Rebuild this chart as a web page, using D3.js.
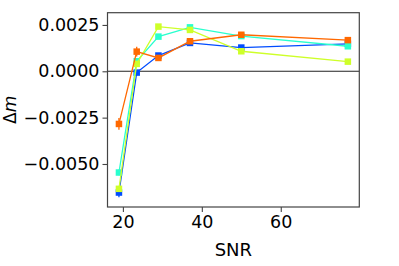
<!DOCTYPE html>
<html>
<head>
<meta charset="utf-8">
<script src="https://cdn.jsdelivr.net/npm/d3@7"></script>
<style>
html,body{margin:0;padding:0;background:#fff;}
svg{display:block;}
text{font-family:"DejaVu Sans",sans-serif;fill:#000;}
</style>
</head>
<body>
<div id="chart"></div>
<script>
const snr = [19, 23.5, 29, 37, 50, 77];
const seriesNames = ["s1", "s2", "s3", "s4"];
const seriesColors = ["#004cff", "#29ffce", "#ceff29", "#ff6800"];
const blueVals   = [-0.00654, -0.00007, 0.00085, 0.00153, 0.00128, 0.00148];
const blueErr    = [0.00026, 0.00012, 0.00010, 0.00008, 0.00008, 0.00008];
const cyanVals   = [-0.00546, 0.00054, 0.00187, 0.00237, 0.00190, 0.00135];
const cyanErr    = [0.00015, 0.00012, 0.00010, 0.00008, 0.00008, 0.00008];
const yellowVals = [-0.00634, 0.00040, 0.00241, 0.00223, 0.00108, 0.00052];
const yellowErr  = [0.00015, 0.00012, 0.00010, 0.00008, 0.00008, 0.00008];
const orangeVals = [-0.00284, 0.00106, 0.00072, 0.00162, 0.00197, 0.00168];
const orangeErr  = [0.00032, 0.00026, 0.00012, 0.00008, 0.00008, 0.00008];
const xTicks = [20, 40, 60];
const yTicks = [-0.005, -0.0025, 0, 0.0025];
const xLabel = "SNR";

const allVals = [blueVals, cyanVals, yellowVals, orangeVals];
const allErrs = [blueErr, cyanErr, yellowErr, orangeErr];

const W = 399, H = 266;
const L = 107.5, R = 359.3, T = 12.7, B = 207;

const svg = d3.select("#chart").append("svg").attr("width", W).attr("height", H);

const x = d3.scaleLinear().domain([16.1, 79.9]).range([L, R]);
const y = d3.scaleLinear().domain([-0.00732, 0.00316]).range([B, T]);

// zero line
svg.append("line").attr("x1", L).attr("x2", R).attr("y1", y(0)).attr("y2", y(0))
  .attr("stroke", "#222").attr("stroke-width", 1.1);

const line = d3.line().x(d => x(d[0])).y(d => y(d[1]));
const clip = svg.append("clipPath").attr("id", "c").append("rect")
  .attr("x", L).attr("y", T).attr("width", R - L).attr("height", B - T);
const g = svg.append("g").attr("clip-path", "url(#c)");

allVals.forEach((vals, i) => {
  const col = seriesColors[i];
  const pts = snr.map((s, j) => [s, vals[j], allErrs[i][j]]);
  const sg = g.append("g");
  sg.append("path").datum(pts).attr("d", line).attr("fill", "none")
    .attr("stroke", col).attr("stroke-width", 1.3);
  sg.selectAll("line.err").data(pts).enter().append("line")
    .attr("x1", d => x(d[0])).attr("x2", d => x(d[0]))
    .attr("y1", d => y(d[1] - d[2])).attr("y2", d => y(d[1] + d[2]))
    .attr("stroke", col).attr("stroke-width", 1.3);
  const ms = 6.5;
  sg.selectAll("rect.m").data(pts).enter().append("rect")
    .attr("x", d => x(d[0]) - ms / 2).attr("y", d => y(d[1]) - ms / 2)
    .attr("width", ms).attr("height", ms).attr("fill", col);
});

// frame
svg.append("rect").attr("x", L).attr("y", T).attr("width", R - L).attr("height", B - T)
  .attr("fill", "none").attr("stroke", "#444").attr("stroke-width", 1.2);

const fmt = v => (v < 0 ? "\u2212" : "") + Math.abs(v).toFixed(4);

const xAxis = d3.axisBottom(x).tickValues(xTicks).tickSize(5).tickPadding(4).tickFormat(d3.format("d"));
const xg = svg.append("g").attr("transform", `translate(0,${B})`).call(xAxis);
xg.select(".domain").remove();
xg.selectAll(".tick line").attr("stroke", "#444").attr("stroke-width", 1.1);
xg.selectAll(".tick text").attr("font-size", 17.5).attr("font-family", "DejaVu Sans").attr("fill", "#000");

const yAxis = d3.axisLeft(y).tickValues(yTicks).tickSize(5).tickPadding(3).tickFormat(fmt);
const yg = svg.append("g").attr("transform", `translate(${L},0)`).call(yAxis);
yg.select(".domain").remove();
yg.selectAll(".tick line").attr("stroke", "#444").attr("stroke-width", 1.1);
yg.selectAll(".tick text").attr("font-size", 17.5).attr("font-family", "DejaVu Sans").attr("fill", "#000");

svg.append("text").attr("x", (L + R) / 2).attr("y", 256).attr("text-anchor", "middle")
  .attr("font-size", 18).text(xLabel);

const yl = svg.append("text").attr("transform", `translate(16,${(T + B) / 2}) rotate(-90)`)
  .attr("text-anchor", "middle").attr("font-size", 17);
yl.append("tspan").text("\u0394");
yl.append("tspan").attr("font-style", "italic").text("m");
</script>
</body>
</html>
